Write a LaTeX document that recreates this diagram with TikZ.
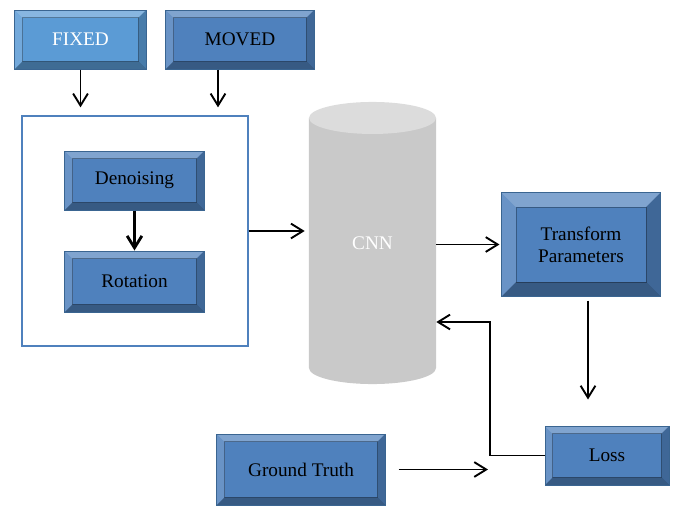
\documentclass[tikz,border=0pt]{standalone}
\usepackage{fontspec}
\setmainfont{Liberation Serif}
\usetikzlibrary{arrows.meta}
\definecolor{boxblue}{HTML}{4F81BD}
\definecolor{fixblue}{HTML}{5B9BD5}
\definecolor{bevline}{HTML}{3A6591}
\definecolor{cnnbody}{HTML}{C9C9C9}
\definecolor{cnntop}{HTML}{DCDCDC}
\newcommand\boxfont{\fontsize{13.7}{15.4}\selectfont}
\begin{document}
\begin{tikzpicture}[x=.025cm,y=.025cm,
 arr/.style={line width=1.35pt,-{Straight Barb[length=8.5pt,width=10.5pt]}},
 bevw/.store in=\bevw,bevw=.19cm,
 bevelbox/.style={draw=bevline,line width=.7pt,fill=#1,font=\boxfont,inner sep=0pt,
  path picture={
   \path (path picture bounding box.north west) coordinate (bnw)
    (path picture bounding box.north east) coordinate (bne)
    (path picture bounding box.south west) coordinate (bsw)
    (path picture bounding box.south east) coordinate (bse);
   \fill[white,opacity=.28] (bnw) -- (bne) -- ([shift={(-\bevw,-\bevw)}]bne)
    -- ([shift={(\bevw,-\bevw)}]bnw) -- cycle;
   \fill[white,opacity=.15] (bnw) -- (bsw) -- ([shift={(\bevw,\bevw)}]bsw)
    -- ([shift={(\bevw,-\bevw)}]bnw) -- cycle;
   \fill[black,opacity=.2] (bne) -- (bse) -- ([shift={(-\bevw,\bevw)}]bse)
    -- ([shift={(-\bevw,-\bevw)}]bne) -- cycle;
   \fill[black,opacity=.3] (bsw) -- (bse) -- ([shift={(-\bevw,\bevw)}]bse)
    -- ([shift={(\bevw,\bevw)}]bsw) -- cycle;
   \draw[black,opacity=.3,line width=.5pt] ([shift={(\bevw,-\bevw)}]bnw)
    rectangle ([shift={(-\bevw,\bevw)}]bse);
  }},
 bevelbox/.default=boxblue,
 cnnshape/.style={minimum width=3.175cm,minimum height=7.05cm,inner sep=0pt,
  text=white,font=\boxfont,
  path picture={
   \fill[cnnbody] ([yshift=-.4cm]path picture bounding box.north west)
    -- ([yshift=.4cm]path picture bounding box.south west)
    arc[start angle=180,end angle=360,x radius=1.5875cm,y radius=.4cm]
    -- ([yshift=-.4cm]path picture bounding box.north east) -- cycle;
   \fill[cnntop] ([yshift=-.4cm]path picture bounding box.north)
    ellipse[x radius=1.5875cm,y radius=.4cm];
  }}]
\useasboundingbox (0,0) rectangle (676,-506);
\node[bevelbox=fixblue,text=white,minimum width=3.275cm,minimum height=1.475cm] (fixed) at (80.5,-39.5) {FIXED};
\node[bevelbox,minimum width=3.7cm,minimum height=1.475cm] (moved) at (240,-39.5) {MOVED};
\node[draw=boxblue,line width=.9pt,minimum width=5.65cm,minimum height=5.75cm] (frame) at (135,-231) {};
\node[bevelbox,minimum width=3.475cm,minimum height=1.475cm] (denoise) at (134.5,-180.5) {Denoising};
\node[bevelbox,minimum width=3.475cm,minimum height=1.525cm] (rotation) at (134.5,-281.5) {Rotation};
\node[cnnshape] (cnn) at (372.5,-243) {CNN};
\node[bevelbox,bevw=.35cm,align=center,minimum width=3.95cm,minimum height=2.575cm] (transform) at (581,-244.5) {Transform\\Parameters};
\node[bevelbox,minimum width=3.1cm,minimum height=1.475cm] (loss) at (607,-455.5) {Loss};
\node[bevelbox,minimum width=4.2cm,minimum height=1.775cm] (truth) at (301,-469.5) {Ground Truth};
\coordinate (mv) at ([xshift=-.55cm]moved.south);
\coordinate (tl) at ([xshift=.175cm]transform.south);
\coordinate (fb) at (490,-322);
\draw[arr,shorten >=.2cm] (fixed.south) -- (fixed.south |- frame.north);
\draw[arr,shorten >=.2cm] (mv) -- (mv |- frame.north);
\draw[arr,line width=2pt] (denoise) -- (rotation);
\draw[arr,shorten >=.1cm] (frame.east) -- (frame.east -| cnn.west);
\draw[arr,shorten >=.05cm] (transform.west -| cnn.east) -- (transform.west);
\draw[arr,shorten <=.1cm,shorten >=.65cm] (tl) -- (tl |- loss.north);
\draw[arr] (loss.west) -| (fb) -- (fb -| cnn.east);
\draw[arr,shorten <=.325cm,shorten >=.05cm] (truth.east) -- (truth.east -| fb);
\end{tikzpicture}
\end{document}
